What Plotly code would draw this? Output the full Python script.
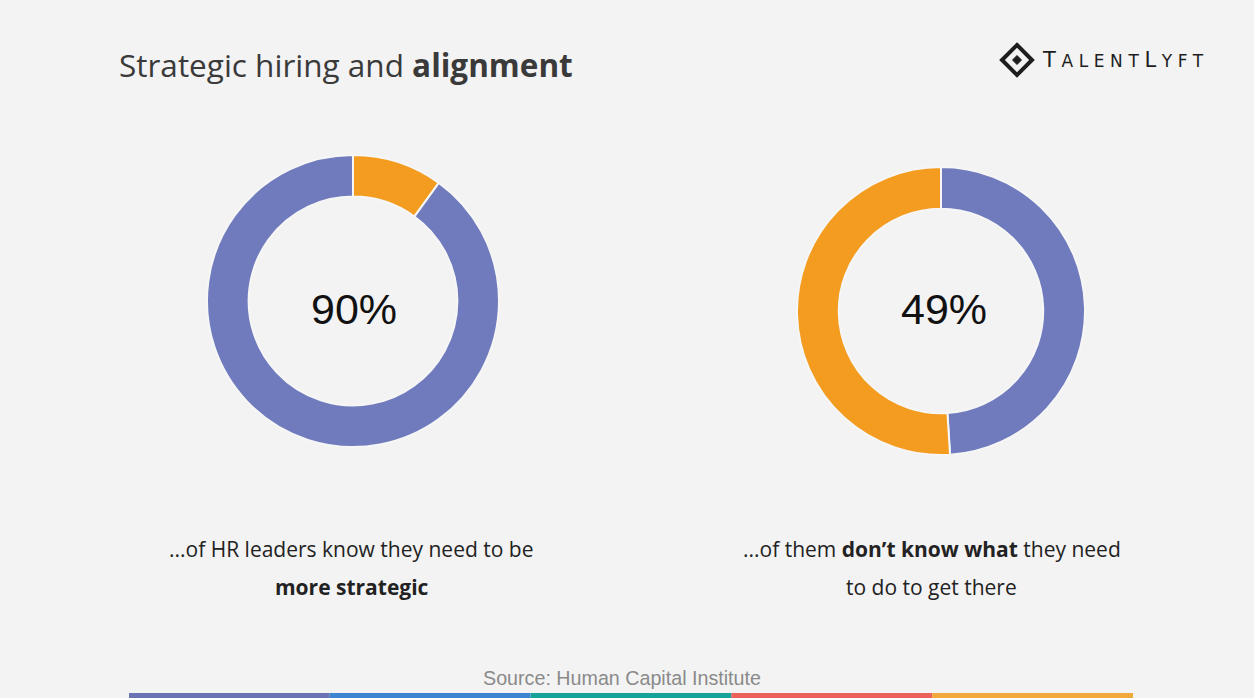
import plotly.graph_objects as go

W, H = 1254, 698

# ---- data ----
left_labels = ["Other", "Know they need to be more strategic"]
left_values = [10, 90]
left_colors = ["#F39C1F", "#6F7BBD"]
left_center = "90%"

right_labels = ["Know what to do", "Don't know what to do"]
right_values = [49, 51]
right_colors = ["#6F7BBD", "#F39C1F"]
right_center = "49%"

title_regular = "Strategic hiring and "
title_bold = "alignment"
source_text = "Source: Human Capital Institute"
bar_colors = ["#6B73B5", "#3D84D1", "#17A398", "#EA625A", "#F2A93B"]

BG = "#F3F3F3"
SANS = "Open Sans, Noto Sans, DejaVu Sans, sans-serif"


def px(x):
    return x / W


def py(y):
    return 1 - y / H


def domain(cx, cy, r):
    return dict(x=[px(cx - r), px(cx + r)], y=[py(cy + r), py(cy - r)])


fig = go.Figure()

fig.add_trace(go.Pie(
    labels=left_labels, values=left_values, sort=False, direction="clockwise",
    rotation=0, hole=0.715, textinfo="none", hoverinfo="label+percent",
    marker=dict(colors=left_colors, line=dict(color="#F6F6F6", width=2)),
    domain=domain(353, 301, 146), showlegend=False,
))
fig.add_trace(go.Pie(
    labels=right_labels, values=right_values, sort=False, direction="clockwise",
    rotation=0, hole=0.71, textinfo="none", hoverinfo="label+percent",
    marker=dict(colors=right_colors, line=dict(color="#F6F6F6", width=2)),
    domain=domain(941, 311, 144), showlegend=False,
))

ann = []
# title
ann.append(dict(x=px(117), y=py(64), xref="paper", yref="paper", xanchor="left", yanchor="middle",
                text=title_regular + "<b>" + title_bold + "</b>", showarrow=False,
                font=dict(family=SANS, size=31.5, color="#3A3A3A")))
# center values
ann.append(dict(x=px(354), y=py(309), xref="paper", yref="paper", xanchor="center", yanchor="middle",
                text=left_center, showarrow=False,
                font=dict(family="Liberation Sans, Arial, sans-serif", size=43, color="#111111")))
ann.append(dict(x=px(944), y=py(309), xref="paper", yref="paper", xanchor="center", yanchor="middle",
                text=right_center, showarrow=False,
                font=dict(family="Liberation Sans, Arial, sans-serif", size=43, color="#111111")))
# captions
CAP = dict(family=SANS, size=21, color="#222222")
ann.append(dict(x=px(351), y=py(549), xref="paper", yref="paper", xanchor="center", yanchor="middle",
                text="...of HR leaders know they need to be", showarrow=False, font=CAP))
ann.append(dict(x=px(352), y=py(587), xref="paper", yref="paper", xanchor="center", yanchor="middle",
                text="<b>more strategic</b>", showarrow=False, font=CAP))
ann.append(dict(x=px(932), y=py(549), xref="paper", yref="paper", xanchor="center", yanchor="middle",
                text="...of them <b>don\u2019t know what</b> they need", showarrow=False, font=CAP))
ann.append(dict(x=px(931), y=py(587), xref="paper", yref="paper", xanchor="center", yanchor="middle",
                text="to do to get there", showarrow=False, font=CAP))
# source
ann.append(dict(x=px(622), y=py(678), xref="paper", yref="paper", xanchor="center", yanchor="middle",
                text=source_text, showarrow=False,
                font=dict(family="Liberation Sans, Arial, sans-serif", size=19.7, color="#8A8A8A")))
# logo text
LS = "letter-spacing:5.6px"
logo = (f"<span style='{LS}'>T</span><span style='font-size:17px;{LS}'>ALENT</span>"
        f"<span style='{LS}'>L</span><span style='font-size:17px;{LS}'>YFT</span>")
ann.append(dict(x=px(1040), y=py(60), xref="paper", yref="paper", xanchor="left", yanchor="middle",
                text=logo, showarrow=False,
                font=dict(family="DejaVu Sans, sans-serif", size=21, color="#1E1E1E")))

shapes = []
# logo icon: outline diamond + inner filled diamond
cx, cy, r = 1017, 60, 15
shapes.append(dict(type="path", xref="paper", yref="paper",
                   path=f"M {px(cx)} {py(cy - r)} L {px(cx + r)} {py(cy)} L {px(cx)} {py(cy + r)} L {px(cx - r)} {py(cy)} Z",
                   line=dict(color="#1E1E1E", width=4), fillcolor="rgba(0,0,0,0)"))
ri = 4.5
shapes.append(dict(type="path", xref="paper", yref="paper",
                   path=f"M {px(cx)} {py(cy - ri)} L {px(cx + ri)} {py(cy)} L {px(cx)} {py(cy + ri)} L {px(cx - ri)} {py(cy)} Z",
                   line=dict(color="#1E1E1E", width=1), fillcolor="#1E1E1E"))
# bottom colour strip
x0, x1 = 129, 1133
seg = (x1 - x0) / len(bar_colors)
for i, c in enumerate(bar_colors):
    shapes.append(dict(type="rect", xref="paper", yref="paper",
                       x0=px(x0 + i * seg), x1=px(x0 + (i + 1) * seg), y0=0, y1=py(693),
                       line=dict(width=0), fillcolor=c))

fig.update_layout(
    width=W, height=H, margin=dict(l=0, r=0, t=0, b=0),
    paper_bgcolor=BG, plot_bgcolor=BG,
    annotations=ann, shapes=shapes, showlegend=False,
)

fig.write_html("out.html", config={"displayModeBar": False})
